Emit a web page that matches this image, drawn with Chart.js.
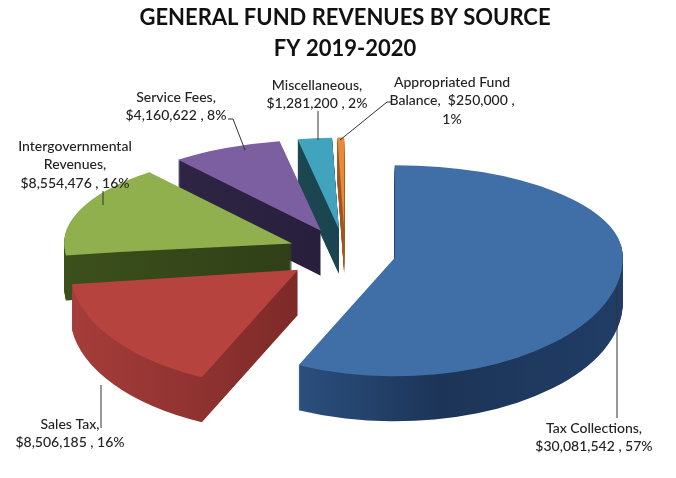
<!DOCTYPE html>
<html><head><meta charset="utf-8">
<script src="https://cdn.jsdelivr.net/npm/chart.js@4.4.1/dist/chart.umd.min.js"></script>
<style>html,body{margin:0;padding:0;background:#fff;}canvas{display:block;}</style>
</head><body>
<canvas id="c" width="676" height="478"></canvas>
<script>
// ---- data ----
const titleLines = ['GENERAL FUND REVENUES BY SOURCE', 'FY 2019-2020'];
const categories = ['Tax Collections', 'Sales Tax', 'Intergovernmental Revenues', 'Service Fees', 'Miscellaneous', 'Appropriated Fund Balance'];
const revenues = [30081542, 8506185, 8554476, 4160622, 1281200, 250000];
const percentLabels = [57, 16, 16, 8, 2, 1];

const money = v => '$' + v.toLocaleString('en-US');
const valuePart = i => `${money(revenues[i])} , ${percentLabels[i]}%`;
const labelLines = [
  [categories[0] + ',', valuePart(0)],
  [categories[1] + ',', valuePart(1)],
  ['Intergovernmental', 'Revenues,', valuePart(2)],
  [categories[3] + ',', valuePart(3)],
  [categories[4] + ',', valuePart(4)],
  ['Appropriated Fund', `Balance,  ${money(revenues[5])} ,`, `${percentLabels[5]}%`]
];

// ---- styles ----
const topColors = ['#406fa8', '#b7433f', '#8fb04c', '#7b5fa0', '#42a3be', '#e98a3a'];
const sideStops = [
  [[0.25, '#2d5283'], [0.6, '#1c3457'], [1, '#213d66']],
  [[0, '#a63d3a'], [0.5, '#7d2a28']],
  [[0, '#3c501c'], [0.5, '#303f17']],
  [[0, '#32284a'], [0.5, '#281f3d']],
  [[0, '#1f4f5c'], [0.5, '#1a4450']],
  [[0, '#b0601f'], [0.5, '#a0561c']]
];

const pie3d = {
  id: 'pie3d',
  beforeDatasetsDraw(chart, args, opts) {
    const ctx = chart.ctx;
    const arcs = chart.getDatasetMeta(0).data;
    const W = chart.width, H = chart.height;
    const sideFills = arcs.map((arc, i) => {
      const g = ctx.createLinearGradient(arc.x - arc.outerRadius, 0, arc.x + arc.outerRadius, 0);
      opts.sideStops[i].forEach(([p, c]) => g.addColorStop(p, c));
      return g;
    });
    const drawArc = (arc, i, fill, d) => {
      const cx = arc.x, cy = arc.y;
      const mid = (arc.startAngle + arc.endAngle) / 2;
      const e = opts.explode[i];
      const ex = Math.cos(mid) * e, ey = Math.sin(mid) * e;
      const proxy = Object.create(arc);
      proxy.options = Object.assign({}, arc.options, {backgroundColor: fill, borderWidth: 0});
      [[opts.kUp, true], [opts.kDown, false]].forEach(([k, upper]) => {
        ctx.save();
        ctx.beginPath();
        if (upper) ctx.rect(0, 0, W, cy + d + 0.5);
        else ctx.rect(0, cy + d - 0.5, W, H);
        ctx.clip();
        ctx.translate(0, cy + d);
        ctx.scale(1, k);
        ctx.translate(ex, ey - cy);
        proxy.draw(ctx);
        ctx.restore();
      });
    };
    for (let d = opts.depth; d >= 1; d--) {
      arcs.forEach((arc, i) => drawArc(arc, i, sideFills[i], d));
    }
    arcs.forEach((arc, i) => drawArc(arc, i, arc.options.backgroundColor, 0));
    return false;
  }
};

const pieLabels = {
  id: 'pieLabels',
  afterDraw(chart, args, opts) {
    const ctx = chart.ctx;
    ctx.save();
    ctx.strokeStyle = opts.lineColor;
    ctx.lineWidth = 1;
    opts.layout.forEach(l => {
      ctx.beginPath();
      l.leader.forEach(([x, y], j) => j ? ctx.lineTo(x, y) : ctx.moveTo(x, y));
      ctx.stroke();
    });
    ctx.fillStyle = opts.color;
    ctx.font = opts.font;
    ctx.textAlign = 'center';
    ctx.textBaseline = 'middle';
    opts.layout.forEach((l, i) => {
      labelLines[i].forEach((t, j) => ctx.fillText(t, l.x, l.y + j * opts.lineHeight));
    });
    ctx.restore();
  }
};

new Chart(document.getElementById('c'), {
  type: 'pie',
  data: {
    labels: categories,
    datasets: [{ data: revenues, backgroundColor: topColors, borderWidth: 0 }]
  },
  options: {
    responsive: false,
    animation: false,
    radius: 228,
    layout: { padding: { left: 14, right: 0, top: 0, bottom: 49 } },
    plugins: {
      legend: { display: false },
      tooltip: { enabled: false },
      title: {
        display: true,
        text: titleLines,
        color: '#111',
        font: { family: 'Lato', size: 22, weight: 'bold', lineHeight: 1.43 },
        padding: { top: 2, bottom: 10 }
      },
      pie3d: {
        explode: [51, 58, 57, 58, 58, 58],
        kUp: 0.40, kDown: 0.52, depth: 45,
        sideStops: sideStops
      },
      pieLabels: {
        font: '500 14px Lato', color: '#222', lineColor: '#333', lineHeight: 18.5,
        layout: [
          { x: 594, y: 428, leader: [[617, 288], [617, 418]] },
          { x: 70, y: 424, leader: [[101, 385], [101, 428]] },
          { x: 75, y: 146, leader: [[103, 191], [103, 205]] },
          { x: 176, y: 97, leader: [[228, 119], [233, 119], [245, 150]] },
          { x: 317, y: 85, leader: [[318, 111], [318, 140]] },
          { x: 452, y: 82, leader: [[392, 102], [387, 102], [340, 140]] }
        ]
      }
    }
  },
  plugins: [pie3d, pieLabels]
});
</script>
</body></html>
